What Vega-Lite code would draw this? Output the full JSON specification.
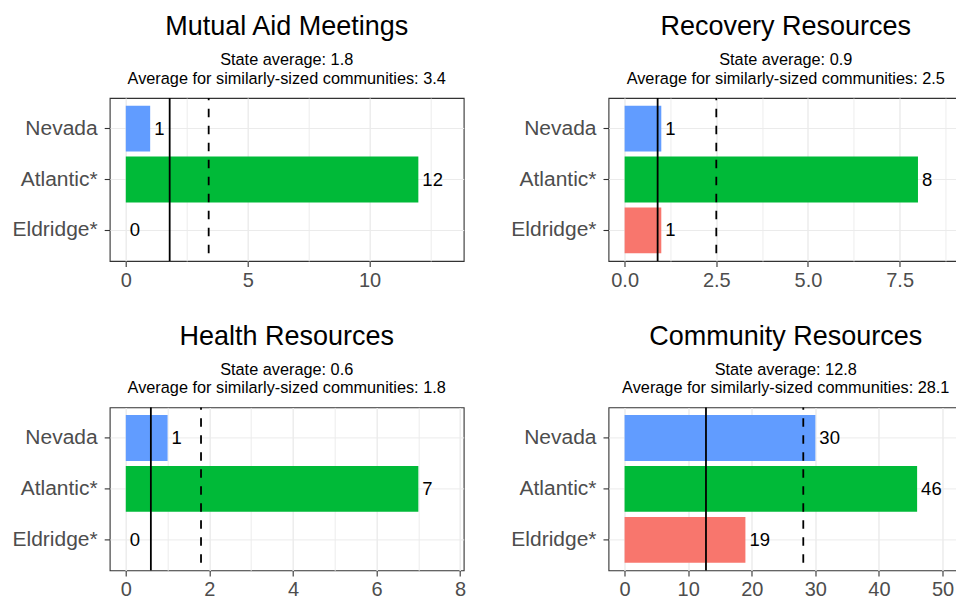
{
  "$schema": "https://vega.github.io/schema/vega-lite/v6.json",
  "padding": {"left": 8.7, "top": 12, "right": 0, "bottom": 0},
  "bounds": "flush",
  "columns": 2,
  "spacing": {"column": 144.8, "row": 146.4},
  "resolve": {"scale": {"x": "independent", "y": "independent"}},
  "datasets": {
    "bars": [
      {"panel": "Mutual Aid Meetings", "community": "Nevada", "value": 1},
      {"panel": "Mutual Aid Meetings", "community": "Atlantic*", "value": 12},
      {"panel": "Mutual Aid Meetings", "community": "Eldridge*", "value": 0},
      {"panel": "Recovery Resources", "community": "Nevada", "value": 1},
      {"panel": "Recovery Resources", "community": "Atlantic*", "value": 8},
      {"panel": "Recovery Resources", "community": "Eldridge*", "value": 1},
      {"panel": "Health Resources", "community": "Nevada", "value": 1},
      {"panel": "Health Resources", "community": "Atlantic*", "value": 7},
      {"panel": "Health Resources", "community": "Eldridge*", "value": 0},
      {"panel": "Community Resources", "community": "Nevada", "value": 30},
      {"panel": "Community Resources", "community": "Atlantic*", "value": 46},
      {"panel": "Community Resources", "community": "Eldridge*", "value": 19}
    ],
    "avgs": [
      {"panel": "Mutual Aid Meetings", "state": 1.8, "similar": 3.4},
      {"panel": "Recovery Resources", "state": 0.9, "similar": 2.5},
      {"panel": "Health Resources", "state": 0.6, "similar": 1.8},
      {"panel": "Community Resources", "state": 12.8, "similar": 28.1}
    ]
  },
  "concat": [
    {
      "width": 354, "height": 163,
      "title": {"text": "Mutual Aid Meetings", "subtitle": ["State average: 1.8", "Average for similarly-sized communities: 3.4"]},
      "layer": [
        {
          "data": {"name": "bars"},
          "transform": [{"filter": "datum.panel === 'Mutual Aid Meetings'"}],
          "mark": {"type": "bar"},
          "encoding": {
            "y": {"field": "community", "type": "nominal", "sort": ["Nevada", "Atlantic*", "Eldridge*"], "scale": {"paddingInner": 0.1, "paddingOuter": 0.15}, "axis": {"title": null, "grid": true, "minExtent": 100, "maxExtent": 100}},
            "x": {"field": "value", "type": "quantitative", "stack": null, "scale": {"domain": [-0.66, 13.86], "nice": false, "zero": false}, "axis": {"title": null, "values": [0, 2.5, 5, 7.5, 10, 12.5], "labelExpr": "datum.value % 5 === 0 ? datum.label : ''", "tickOpacity": {"condition": {"test": "datum.value % 5 === 0", "value": 1}, "value": 0}, "gridWidth": {"condition": {"test": "datum.value % 5 === 0", "value": 1.4}, "value": 0.9}}},
            "x2": {"datum": 0},
            "color": {"field": "community", "type": "nominal", "scale": {"domain": ["Eldridge*", "Atlantic*", "Nevada"], "range": ["#F8766D", "#00BA38", "#619CFF"]}, "legend": null}
          }
        },
        {
          "data": {"name": "bars"},
          "transform": [{"filter": "datum.panel === 'Mutual Aid Meetings'"}],
          "mark": {"type": "text", "align": "left", "baseline": "middle", "dx": 4, "fontSize": 18.5, "color": "black"},
          "encoding": {
            "y": {"field": "community", "type": "nominal", "sort": ["Nevada", "Atlantic*", "Eldridge*"]},
            "x": {"field": "value", "type": "quantitative"},
            "text": {"field": "value", "type": "quantitative"}
          }
        },
        {
          "data": {"name": "avgs"},
          "transform": [{"filter": "datum.panel === 'Mutual Aid Meetings'"}],
          "mark": {"type": "rule", "color": "black", "strokeWidth": 1.8},
          "encoding": {"x": {"field": "state", "type": "quantitative"}}
        },
        {
          "data": {"name": "avgs"},
          "transform": [{"filter": "datum.panel === 'Mutual Aid Meetings'"}],
          "mark": {"type": "rule", "color": "black", "strokeWidth": 1.8, "strokeDash": [8.5, 8.5], "strokeDashOffset": 6.2},
          "encoding": {"x": {"field": "similar", "type": "quantitative"}}
        }
      ]
    },
    {
      "width": 348.5, "height": 163,
      "title": {"text": "Recovery Resources", "subtitle": ["State average: 0.9", "Average for similarly-sized communities: 2.5"], "dx": 3},
      "layer": [
        {
          "data": {"name": "bars"},
          "transform": [{"filter": "datum.panel === 'Recovery Resources'"}],
          "mark": {"type": "bar"},
          "encoding": {
            "y": {"field": "community", "type": "nominal", "sort": ["Nevada", "Atlantic*", "Eldridge*"], "scale": {"paddingInner": 0.1, "paddingOuter": 0.15}, "axis": {"title": null, "grid": true, "minExtent": 100, "maxExtent": 100}},
            "x": {"field": "value", "type": "quantitative", "stack": null, "scale": {"domain": [-0.44, 9.064], "nice": false, "zero": false}, "axis": {"title": null, "values": [0, 1.25, 2.5, 3.75, 5, 6.25, 7.5, 8.75], "labelExpr": "datum.value % 2.5 === 0 ? format(datum.value, '.1f') : ''", "tickOpacity": {"condition": {"test": "datum.value % 2.5 === 0", "value": 1}, "value": 0}, "gridWidth": {"condition": {"test": "datum.value % 2.5 === 0", "value": 1.4}, "value": 0.9}}},
            "x2": {"datum": 0},
            "color": {"field": "community", "type": "nominal", "scale": {"domain": ["Eldridge*", "Atlantic*", "Nevada"], "range": ["#F8766D", "#00BA38", "#619CFF"]}, "legend": null}
          }
        },
        {
          "data": {"name": "bars"},
          "transform": [{"filter": "datum.panel === 'Recovery Resources'"}],
          "mark": {"type": "text", "align": "left", "baseline": "middle", "dx": 4, "fontSize": 18.5, "color": "black"},
          "encoding": {
            "y": {"field": "community", "type": "nominal", "sort": ["Nevada", "Atlantic*", "Eldridge*"]},
            "x": {"field": "value", "type": "quantitative"},
            "text": {"field": "value", "type": "quantitative"}
          }
        },
        {
          "data": {"name": "avgs"},
          "transform": [{"filter": "datum.panel === 'Recovery Resources'"}],
          "mark": {"type": "rule", "color": "black", "strokeWidth": 1.8},
          "encoding": {"x": {"field": "state", "type": "quantitative"}}
        },
        {
          "data": {"name": "avgs"},
          "transform": [{"filter": "datum.panel === 'Recovery Resources'"}],
          "mark": {"type": "rule", "color": "black", "strokeWidth": 1.8, "strokeDash": [8.5, 8.5], "strokeDashOffset": 6.2},
          "encoding": {"x": {"field": "similar", "type": "quantitative"}}
        }
      ]
    },
    {
      "width": 354, "height": 163,
      "title": {"text": "Health Resources", "subtitle": ["State average: 0.6", "Average for similarly-sized communities: 1.8"]},
      "layer": [
        {
          "data": {"name": "bars"},
          "transform": [{"filter": "datum.panel === 'Health Resources'"}],
          "mark": {"type": "bar"},
          "encoding": {
            "y": {"field": "community", "type": "nominal", "sort": ["Nevada", "Atlantic*", "Eldridge*"], "scale": {"paddingInner": 0.1, "paddingOuter": 0.15}, "axis": {"title": null, "grid": true, "minExtent": 100, "maxExtent": 100}},
            "x": {"field": "value", "type": "quantitative", "stack": null, "scale": {"domain": [-0.385, 8.085], "nice": false, "zero": false}, "axis": {"title": null, "values": [0, 1, 2, 3, 4, 5, 6, 7, 8], "labelExpr": "datum.value % 2 === 0 ? datum.label : ''", "tickOpacity": {"condition": {"test": "datum.value % 2 === 0", "value": 1}, "value": 0}, "gridWidth": {"condition": {"test": "datum.value % 2 === 0", "value": 1.4}, "value": 0.9}}},
            "x2": {"datum": 0},
            "color": {"field": "community", "type": "nominal", "scale": {"domain": ["Eldridge*", "Atlantic*", "Nevada"], "range": ["#F8766D", "#00BA38", "#619CFF"]}, "legend": null}
          }
        },
        {
          "data": {"name": "bars"},
          "transform": [{"filter": "datum.panel === 'Health Resources'"}],
          "mark": {"type": "text", "align": "left", "baseline": "middle", "dx": 4, "fontSize": 18.5, "color": "black"},
          "encoding": {
            "y": {"field": "community", "type": "nominal", "sort": ["Nevada", "Atlantic*", "Eldridge*"]},
            "x": {"field": "value", "type": "quantitative"},
            "text": {"field": "value", "type": "quantitative"}
          }
        },
        {
          "data": {"name": "avgs"},
          "transform": [{"filter": "datum.panel === 'Health Resources'"}],
          "mark": {"type": "rule", "color": "black", "strokeWidth": 1.8},
          "encoding": {"x": {"field": "state", "type": "quantitative"}}
        },
        {
          "data": {"name": "avgs"},
          "transform": [{"filter": "datum.panel === 'Health Resources'"}],
          "mark": {"type": "rule", "color": "black", "strokeWidth": 1.8, "strokeDash": [8.5, 8.5], "strokeDashOffset": 6.2},
          "encoding": {"x": {"field": "similar", "type": "quantitative"}}
        }
      ]
    },
    {
      "width": 348.5, "height": 163,
      "title": {"text": "Community Resources", "subtitle": ["State average: 12.8", "Average for similarly-sized communities: 28.1"], "dx": 3},
      "layer": [
        {
          "data": {"name": "bars"},
          "transform": [{"filter": "datum.panel === 'Community Resources'"}],
          "mark": {"type": "bar"},
          "encoding": {
            "y": {"field": "community", "type": "nominal", "sort": ["Nevada", "Atlantic*", "Eldridge*"], "scale": {"paddingInner": 0.1, "paddingOuter": 0.15}, "axis": {"title": null, "grid": true, "minExtent": 100, "maxExtent": 100}},
            "x": {"field": "value", "type": "quantitative", "stack": null, "scale": {"domain": [-2.53, 52.27], "nice": false, "zero": false}, "axis": {"title": null, "values": [0, 5, 10, 15, 20, 25, 30, 35, 40, 45, 50], "labelExpr": "datum.value % 10 === 0 ? datum.label : ''", "tickOpacity": {"condition": {"test": "datum.value % 10 === 0", "value": 1}, "value": 0}, "gridWidth": {"condition": {"test": "datum.value % 10 === 0", "value": 1.4}, "value": 0.9}}},
            "x2": {"datum": 0},
            "color": {"field": "community", "type": "nominal", "scale": {"domain": ["Eldridge*", "Atlantic*", "Nevada"], "range": ["#F8766D", "#00BA38", "#619CFF"]}, "legend": null}
          }
        },
        {
          "data": {"name": "bars"},
          "transform": [{"filter": "datum.panel === 'Community Resources'"}],
          "mark": {"type": "text", "align": "left", "baseline": "middle", "dx": 4, "fontSize": 18.5, "color": "black"},
          "encoding": {
            "y": {"field": "community", "type": "nominal", "sort": ["Nevada", "Atlantic*", "Eldridge*"]},
            "x": {"field": "value", "type": "quantitative"},
            "text": {"field": "value", "type": "quantitative"}
          }
        },
        {
          "data": {"name": "avgs"},
          "transform": [{"filter": "datum.panel === 'Community Resources'"}],
          "mark": {"type": "rule", "color": "black", "strokeWidth": 1.8},
          "encoding": {"x": {"field": "state", "type": "quantitative"}}
        },
        {
          "data": {"name": "avgs"},
          "transform": [{"filter": "datum.panel === 'Community Resources'"}],
          "mark": {"type": "rule", "color": "black", "strokeWidth": 1.8, "strokeDash": [8.5, 8.5], "strokeDashOffset": 6.2},
          "encoding": {"x": {"field": "similar", "type": "quantitative"}}
        }
      ]
    }
  ],
  "config": {
    "font": "Liberation Sans",
    "view": {"stroke": "#333333", "strokeWidth": 1.1},
    "axis": {"domain": false, "gridColor": "#EBEBEB", "tickColor": "#333333", "tickSize": 5.5, "tickWidth": 1.1, "labelColor": "#4D4D4D", "labelFontSize": 21, "labelPadding": 4},
    "axisY": {"labelPadding": 7},
    "axisX": {"labelFontSize": 20},
    "title": {"fontSize": 27, "fontWeight": "normal", "color": "black", "subtitleFontSize": 16.3, "subtitleColor": "black", "subtitleLineHeight": 18.4, "subtitlePadding": 11, "anchor": "middle", "frame": "group", "offset": 9}
  }
}
